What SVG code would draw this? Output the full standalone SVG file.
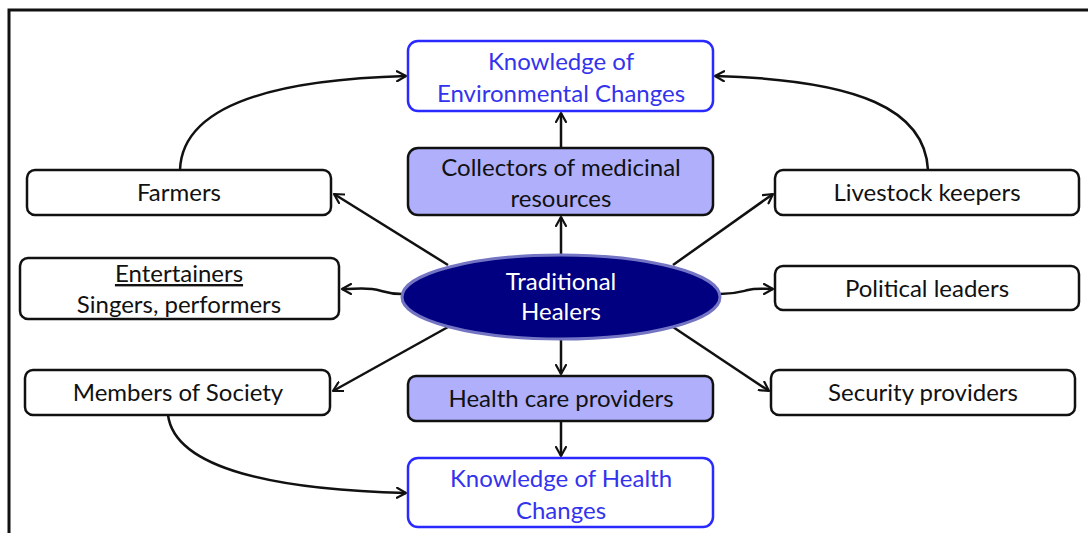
<svg xmlns="http://www.w3.org/2000/svg" width="1088" height="533" viewBox="0 0 1088 533">
<defs>
<marker id="ah" viewBox="0 0 12 12" refX="10" refY="6" markerWidth="12" markerHeight="12" markerUnits="userSpaceOnUse" orient="auto">
<path d="M1,1 L10,6 L1,11" fill="none" stroke="#111" stroke-width="2.2" stroke-linecap="round" stroke-linejoin="round"/>
</marker>
<style>
.box{fill:#fff;stroke:#111;stroke-width:2.5}
.kb{fill:#fff;stroke:#2a2aff;stroke-width:2.5}
.fb{fill:#afaffc;stroke:#111;stroke-width:2.5}
text{font-family:Lato,"Open Sans","Liberation Sans",sans-serif;font-size:24px;text-anchor:middle;fill:#111}
.kt{fill:#3333ee}
.wt{fill:#fff}
.c{fill:none;stroke:#111;stroke-width:2.5;marker-end:url(#ah)}
</style>
</defs>
<rect width="1088" height="533" fill="#fff"/>
<path d="M9,533 V10 H1088" fill="none" stroke="#111" stroke-width="3"/>
<g id="connectors">
<path class="c" d="M561,255 V217"/>
<path class="c" d="M561,148 V113"/>
<path class="c" d="M561,340 V374"/>
<path class="c" d="M561,421 V456"/>
<path class="c" d="M448,265 L334,194"/>
<path class="c" d="M673,265 L773,194"/>
<path class="c" d="M448,327 L333,391"/>
<path class="c" d="M673,327 L769,391"/>
<path class="c" d="M402,294 C385,294 383,290 372,289 C360,288 355,289 342,289"/>
<path class="c" d="M720,294 C735,294 740,292 748,290 C756,288 762,289 773,289"/>
<path class="c" d="M180,170 C182,110 260,80 406,76"/>
<path class="c" d="M928,170 C925,110 860,80 715,76"/>
<path class="c" d="M168,415 C175,470 280,490 406,493"/>
</g>
<g id="env-knowledge">
<rect class="kb" x="408" y="41" width="305" height="70" rx="10"/>
<text class="kt" x="561" y="70">Knowledge of</text>
<text class="kt" x="561" y="102">Environmental Changes</text>
</g>
<g id="collectors">
<rect class="fb" x="408" y="148" width="305" height="67" rx="10"/>
<text x="561" y="176">Collectors of medicinal</text>
<text x="561" y="207">resources</text>
</g>
<g id="farmers">
<rect class="box" x="27" y="170" width="304" height="45" rx="8"/>
<text x="179" y="201">Farmers</text>
</g>
<g id="livestock">
<rect class="box" x="775" y="170" width="304" height="45" rx="8"/>
<text x="927" y="201">Livestock keepers</text>
</g>
<g id="entertainers">
<rect class="box" x="20" y="258" width="319" height="61" rx="8"/>
<text x="179" y="282" text-decoration="underline">Entertainers</text>
<text x="179" y="313">Singers, performers</text>
</g>
<g id="political">
<rect class="box" x="775" y="266" width="304" height="44" rx="8"/>
<text x="927" y="297">Political leaders</text>
</g>
<g id="healers">
<ellipse cx="561" cy="297" rx="159" ry="42" fill="#000080" stroke="#7474c4" stroke-width="3"/>
<text class="wt" x="561" y="290">Traditional</text>
<text class="wt" x="561" y="320">Healers</text>
</g>
<g id="members">
<rect class="box" x="25" y="370" width="305" height="45" rx="8"/>
<text x="178" y="401">Members of Society</text>
</g>
<g id="health-care">
<rect class="fb" x="408" y="376" width="305" height="45" rx="8"/>
<text x="561" y="407">Health care providers</text>
</g>
<g id="security">
<rect class="box" x="771" y="370" width="304" height="45" rx="8"/>
<text x="923" y="401">Security providers</text>
</g>
<g id="health-knowledge">
<rect class="kb" x="408" y="458" width="305" height="69" rx="10"/>
<text class="kt" x="561" y="487">Knowledge of Health</text>
<text class="kt" x="561" y="519">Changes</text>
</g>
</svg>
